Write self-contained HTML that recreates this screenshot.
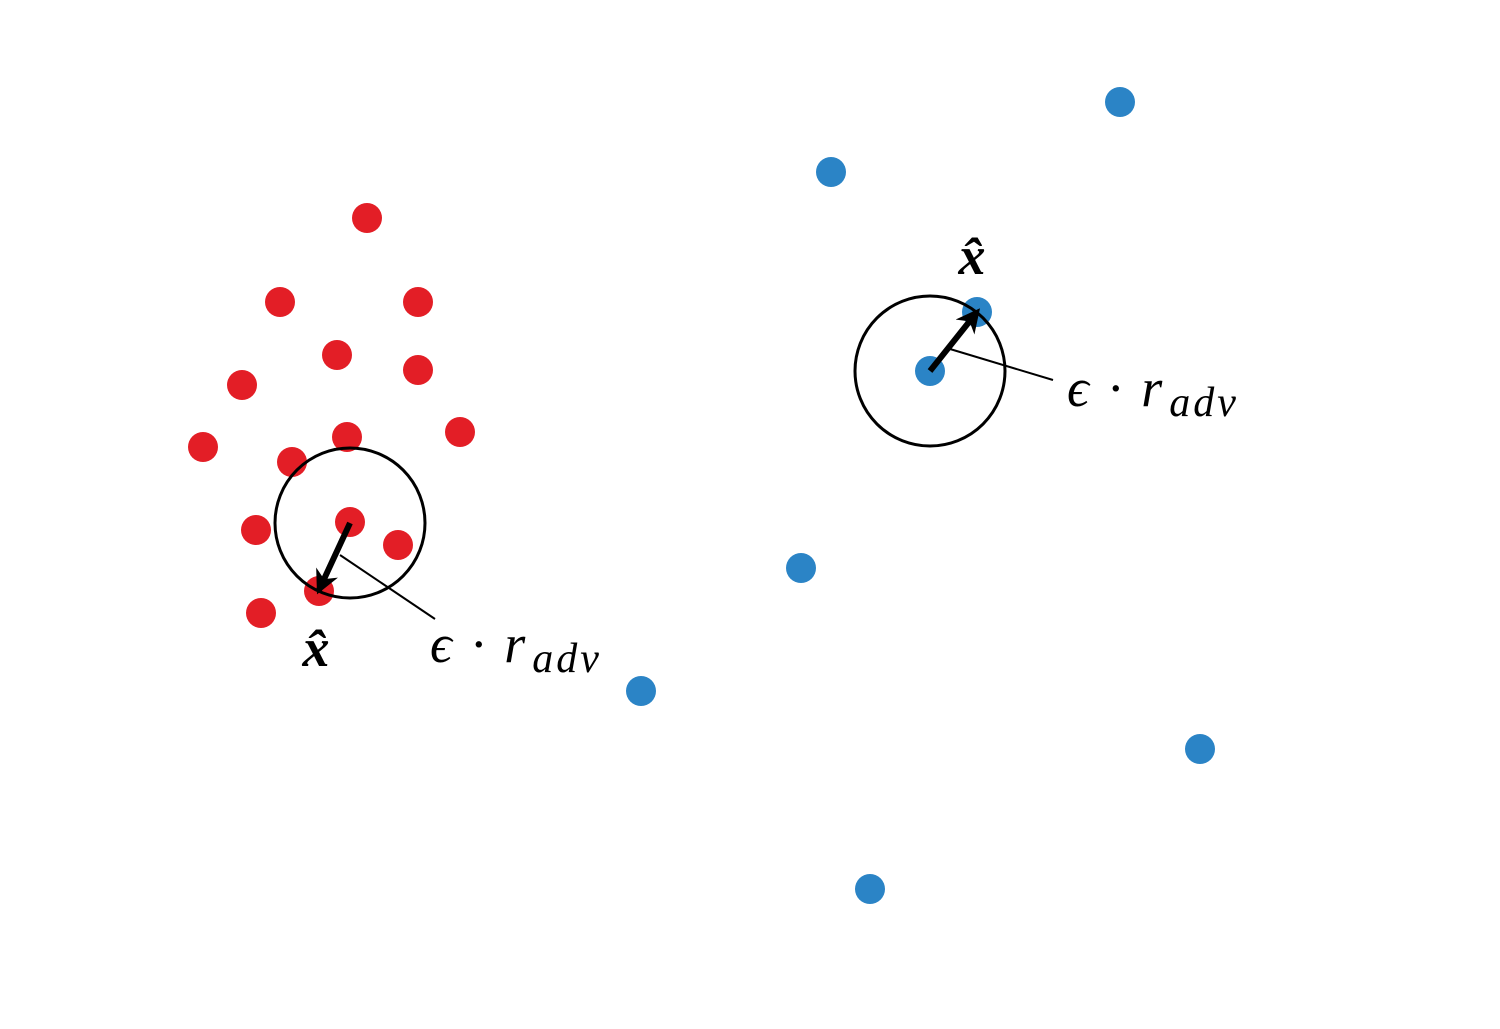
<!DOCTYPE html>
<html><head><meta charset="utf-8"><style>
html,body{margin:0;padding:0;background:#fff;}
svg{display:block;}
text{font-family:"Liberation Serif",serif;}
</style></head>
<body>
<svg id="chart" width="1500" height="1029" viewBox="0 0 1500 1029" xmlns="http://www.w3.org/2000/svg">
<defs>
<marker id="ah" viewBox="0 0 10 10" refX="8" refY="5" markerWidth="4" markerHeight="4" orient="auto-start-reverse">
<path d="M0,0 L10,5 L0,10 L3,5 z" fill="#000"/>
</marker>
</defs>
<g id="marks"></g>
<g id="annot"></g>
</svg>
<script>
// data coordinates (x right, y up), units of 10px
const redX = [36.7,28.0,41.8,33.7,41.8,24.2,20.3,34.7,46.0,29.2,35.0,25.6,39.8,31.9,26.1];
const redY = [81.1,72.7,72.7,67.4,65.9,64.4,58.2,59.2,59.7,56.7,50.7,49.9,48.4,43.8,41.6];
const blueX = [112.0,83.1,97.7,93.0,80.1,64.1,120.0,87.0];
const blueY = [92.7,85.7,71.7,65.8,46.1,33.8,28.0,14.0];
const centers = [[35.0,50.6],[93.0,65.8]];
const targets = [[31.9,43.9],[97.7,71.7]];
const epsRadius = 7.5;

function sx(v){return v*10;}
function sy(v){return 1029 - v*10;}
const NS='http://www.w3.org/2000/svg';
const marks=document.getElementById('marks');
const annot=document.getElementById('annot');

function mk(tag,attrs,parent){const e=document.createElementNS(NS,tag);for(const k in attrs)e.setAttribute(k,attrs[k]);parent.appendChild(e);return e;}

redX.forEach((v,i)=>{
  const c=mk('circle',{cx:sx(v),cy:sy(redY[i]),r:15,fill:'#e31e26'},marks);
  
  
});
blueX.forEach((v,i)=>{
  const c=mk('circle',{cx:sx(v),cy:sy(blueY[i]),r:15,fill:'#2b84c6'},marks);
  
  
});

centers.forEach((c,i)=>{
  const circ=mk('circle',{cx:sx(c[0]),cy:sy(c[1]),r:epsRadius*10,fill:'none',stroke:'#000','stroke-width':3},annot);
  
  
  const t=targets[i];
  const ar=mk('line',{x1:sx(c[0]),y1:sy(c[1]),x2:sx(t[0]),y2:sy(t[1]),stroke:'#000','stroke-width':6,'marker-end':'url(#ah)'},annot);
  
  
});

const leaders=[[340,555,435,619],[950,349,1053,380]];
leaders.forEach(l=>{
  const e=mk('line',{x1:l[0],y1:l[1],x2:l[2],y2:l[3],stroke:'#000','stroke-width':2},annot);
  
  
});

function xhat(x,y){
  const t=mk('text',{x:x,y:y,'font-size':54,'font-weight':'bold','font-style':'italic','text-anchor':'middle'},annot);
  t.textContent='x̂';
  
  
}
xhat(316,666);xhat(972,274);

function epsLabel(x,y){
  const t=mk('text',{x:x,y:y,'font-size':54,'font-style':'italic'},annot);
  
  
  const a=mk('tspan',{'letter-spacing':3},t);a.textContent='ϵ · r';
  const b=mk('tspan',{'font-size':42,dy:10,dx:4,'letter-spacing':3},t);b.textContent='adv';
}
epsLabel(430,662);epsLabel(1067,406);
</script>
</body></html>
